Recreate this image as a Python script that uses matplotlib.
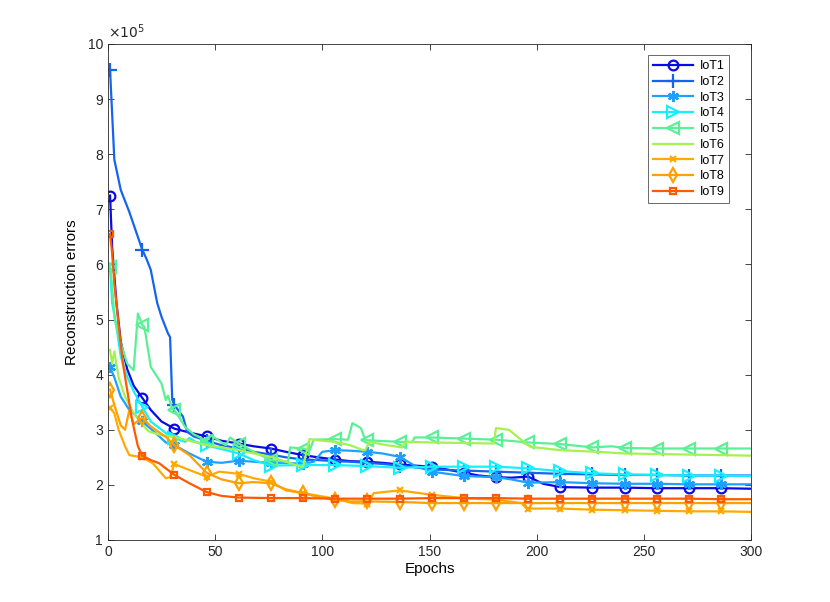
import matplotlib
matplotlib.use("Agg")
import matplotlib.pyplot as plt
import numpy as np

plt.rcParams['font.family'] = ['Liberation Sans', 'DejaVu Sans']

names = ["IoT1", "IoT2", "IoT3", "IoT4", "IoT5", "IoT6", "IoT7", "IoT8", "IoT9"]
marker_epochs = [1, 16, 31, 46, 61, 76, 91, 106, 121, 136, 151, 166, 181, 196, 211, 226, 241, 256, 271, 286]

iot1_epochs = [1, 2, 4, 6, 9, 12, 16, 20, 25, 31, 38, 46, 53, 61, 68, 76, 83, 91, 98, 106, 113, 121, 128, 136, 143, 151, 158, 166, 173, 181, 188, 196, 203, 211, 226, 241, 256, 271, 286, 300]
iot1_values = [7.25, 6.3, 5.3, 4.6, 4.1, 3.8, 3.58, 3.36, 3.15, 3.02, 2.95, 2.88, 2.8, 2.75, 2.7, 2.66, 2.6, 2.54, 2.5, 2.46, 2.43, 2.42, 2.4, 2.37, 2.35, 2.33, 2.28, 2.22, 2.17, 2.14, 2.13, 2.15, 2.02, 1.96, 1.95, 1.95, 1.94, 1.94, 1.94, 1.93]

iot2_epochs = [1, 3, 6, 10, 16, 18, 20, 23, 25, 28, 29, 30, 31, 35, 37, 40, 46, 53, 61, 68, 76, 83, 91, 98, 106, 113, 121, 128, 136, 143, 151, 166, 181, 196, 211, 226, 241, 256, 271, 286, 300]
iot2_values = [9.53, 7.9, 7.35, 6.95, 6.27, 6.1, 5.9, 5.3, 5.05, 4.75, 4.68, 3.55, 3.45, 3.24, 2.96, 2.88, 2.8, 2.72, 2.66, 2.6, 2.55, 2.5, 2.46, 2.45, 2.43, 2.42, 2.4, 2.38, 2.35, 2.32, 2.28, 2.26, 2.24, 2.22, 2.2, 2.19, 2.18, 2.18, 2.17, 2.17, 2.17]

iot3_epochs = [1, 3, 6, 10, 16, 22, 27, 31, 38, 46, 53, 61, 68, 76, 83, 91, 96, 100, 106, 113, 121, 128, 136, 143, 151, 166, 181, 188, 196, 211, 226, 241, 256, 271, 286, 300]
iot3_values = [4.13, 3.95, 3.6, 3.36, 3.15, 2.95, 2.77, 2.72, 2.57, 2.42, 2.4, 2.44, 2.42, 2.4, 2.4, 2.38, 2.42, 2.6, 2.63, 2.62, 2.6, 2.57, 2.51, 2.35, 2.24, 2.16, 2.14, 2.1, 2.04, 2.05, 2.03, 2.02, 2.02, 2.01, 2.01, 2.01]

iot4_epochs = [1, 2, 4, 6, 9, 12, 16, 20, 27, 31, 36, 38, 41, 46, 53, 61, 68, 76, 91, 106, 121, 136, 151, 166, 181, 196, 211, 226, 241, 256, 271, 286, 300]
iot4_values = [5.96, 5.3, 4.87, 4.33, 3.96, 3.7, 3.42, 3.15, 2.94, 2.85, 2.78, 2.85, 2.78, 2.72, 2.65, 2.57, 2.45, 2.35, 2.36, 2.36, 2.34, 2.31, 2.33, 2.33, 2.33, 2.3, 2.25, 2.21, 2.19, 2.18, 2.17, 2.17, 2.16]

iot5_epochs = [1, 2, 3, 5, 9, 12, 14, 16, 17, 20, 25, 27, 28, 30, 31, 33, 36, 40, 46, 48, 55, 57, 61, 68, 76, 84, 85, 91, 94, 96, 106, 112, 114, 118, 120, 121, 136, 142, 143, 151, 166, 181, 196, 211, 226, 235, 241, 256, 271, 286, 300]
iot5_values = [5.96, 5.6, 5.05, 4.69, 4.2, 4.08, 5.11, 4.9, 4.87, 4.14, 3.84, 3.54, 3.62, 3.38, 3.36, 3.24, 3.05, 2.92, 2.8, 2.9, 2.72, 2.86, 2.75, 2.6, 2.45, 2.42, 2.68, 2.66, 2.62, 2.82, 2.83, 2.82, 3.12, 3.03, 2.82, 2.81, 2.78, 2.78, 2.86, 2.86, 2.84, 2.82, 2.77, 2.74, 2.68, 2.7, 2.67, 2.66, 2.66, 2.66, 2.66]

iot6_epochs = [1, 2, 3, 5, 8, 12, 16, 19, 25, 31, 38, 46, 53, 61, 68, 76, 83, 90, 91, 94, 98, 106, 113, 119, 120, 122, 130, 137, 139, 151, 166, 180, 181, 187, 193, 197, 211, 228, 241, 256, 271, 286, 300]
iot6_values = [4.45, 4.2, 4.42, 3.95, 3.6, 3.3, 3.1, 2.97, 2.9, 2.87, 2.8, 2.72, 2.68, 2.63, 2.57, 2.51, 2.42, 2.33, 2.33, 2.83, 2.81, 2.78, 2.72, 2.63, 2.63, 2.78, 2.72, 2.68, 2.78, 2.77, 2.76, 2.75, 3.03, 3.0, 2.81, 2.69, 2.63, 2.6, 2.57, 2.56, 2.55, 2.54, 2.53]

iot7_epochs = [1, 3, 5, 8, 10, 13, 16, 21, 27, 29, 31, 36, 46, 52, 61, 68, 76, 83, 91, 106, 114, 121, 124, 136, 151, 166, 181, 193, 195, 196, 211, 226, 241, 256, 271, 286, 300]
iot7_values = [3.40, 3.3, 3.0, 2.7, 2.54, 2.52, 2.5, 2.39, 2.12, 2.14, 2.38, 2.3, 2.15, 2.24, 2.2, 2.12, 2.06, 1.9, 1.85, 1.75, 1.67, 1.66, 1.85, 1.9, 1.82, 1.76, 1.73, 1.67, 1.58, 1.57, 1.57, 1.55, 1.54, 1.53, 1.52, 1.52, 1.51]

iot8_epochs = [1, 3, 6, 8, 10, 12, 16, 20, 27, 31, 38, 46, 53, 61, 68, 76, 83, 91, 98, 106, 113, 121, 136, 151, 166, 181, 196, 211, 226, 241, 256, 271, 286, 300]
iot8_values = [3.73, 3.45, 3.08, 3.0, 3.36, 3.1, 3.22, 3.06, 2.87, 2.72, 2.54, 2.22, 2.1, 2.03, 2.05, 2.03, 1.92, 1.85, 1.78, 1.73, 1.7, 1.70, 1.69, 1.67, 1.67, 1.67, 1.67, 1.67, 1.67, 1.67, 1.67, 1.67, 1.67, 1.67]

iot9_epochs = [1, 2, 3, 5, 7, 9, 11, 12, 14, 16, 20, 24, 31, 38, 46, 53, 61, 76, 91, 106, 121, 136, 151, 166, 181, 196, 211, 226, 241, 256, 271, 286, 300]
iot9_values = [6.55, 6.2, 5.66, 4.9, 4.2, 3.72, 3.24, 3.05, 2.7, 2.53, 2.45, 2.39, 2.18, 2.03, 1.87, 1.8, 1.77, 1.76, 1.76, 1.75, 1.75, 1.75, 1.76, 1.76, 1.76, 1.75, 1.75, 1.75, 1.75, 1.75, 1.75, 1.74, 1.74]

all_epochs = [iot1_epochs, iot2_epochs, iot3_epochs, iot4_epochs, iot5_epochs,
              iot6_epochs, iot7_epochs, iot8_epochs, iot9_epochs]
all_values = [iot1_values, iot2_values, iot3_values, iot4_values, iot5_values,
              iot6_values, iot7_values, iot8_values, iot9_values]

colors = ["#0a0ae6", "#1464f0", "#1ea0ff", "#14f0ff", "#5af096",
          "#a6f050", "#ffaa00", "#ffa000", "#ff5a00"]
markers = ["o", "+", (6, 2, 0), ">", "<", None, "x", "d", "s"]
msizes = [7, 10, 8, 8, 8, 0, 5, 7, 5]

fig = plt.figure(figsize=(8.30, 6.02), dpi=100)
ax = fig.add_axes([0.130, 0.103, 0.775, 0.824])

for ep, val, c, m, ms, nm in zip(all_epochs, all_values, colors, markers, msizes, names):
    ep = np.asarray(ep)
    val = np.asarray(val) * 1e5
    if m is None:
        ax.plot(ep, val, color=c, lw=1.6, label=nm)
    else:
        idx = [i for i, e in enumerate(ep) if e in marker_epochs]
        ax.plot(ep, val, color=c, lw=1.6, marker=m, markersize=ms,
                markerfacecolor="none", markeredgecolor=c, markeredgewidth=1.6,
                markevery=idx, label=nm)

ax.set_xlim(0, 300)
ax.set_ylim(1e5, 10e5)
ax.set_xticks([0, 50, 100, 150, 200, 250, 300])
yt = np.arange(1, 11)
ax.set_yticks(yt * 1e5)
ax.set_yticklabels([str(v) for v in yt])
ax.tick_params(direction="in", length=4, labelsize=10, colors="#262626",
               top=True, right=True, width=0.6)
for sp in ax.spines.values():
    sp.set_linewidth(0.6)
    sp.set_color("#262626")
ax.text(0.0, 1.005, r"$\times10^5$", transform=ax.transAxes, fontsize=10,
        ha="left", va="bottom", color="#262626")
ax.set_xlabel("Epochs", fontsize=11, labelpad=2)
ax.set_ylabel("Reconstruction errors", fontsize=11, labelpad=6)

leg = ax.legend(loc="upper right", fontsize=9, frameon=True, fancybox=False,
                edgecolor="#262626", handlelength=3.2, borderpad=0.4,
                labelspacing=0.3, bbox_to_anchor=(0.976, 0.99), handletextpad=0.5)
leg.get_frame().set_linewidth(0.6)

fig.savefig("out.png", dpi=100)
